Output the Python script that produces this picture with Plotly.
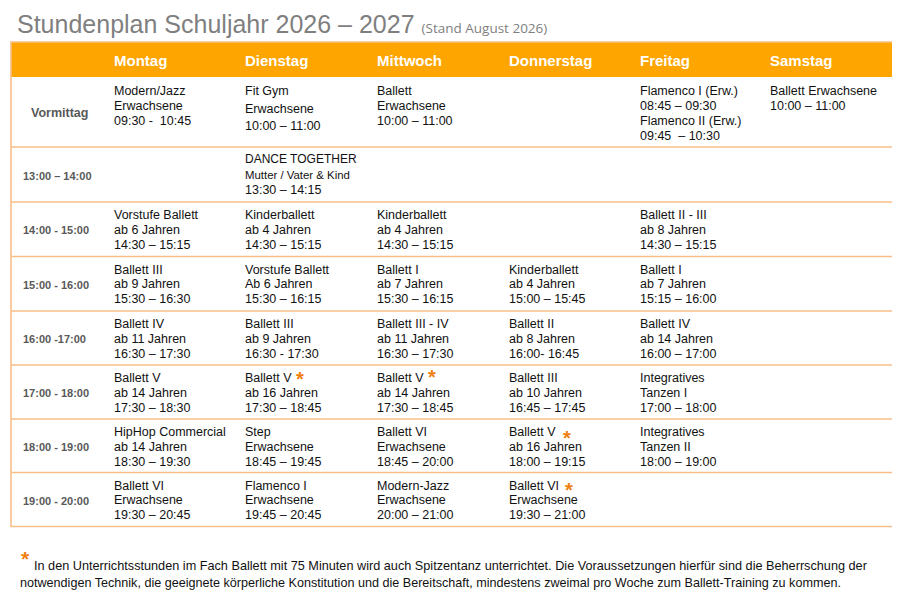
import plotly.graph_objects as go

# ---------------- data ----------------
title_main = "Stundenplan Schuljahr 2026 – 2027"
title_note = "(Stand August 2026)"

days = ["Montag", "Dienstag", "Mittwoch", "Donnerstag", "Freitag", "Samstag"]
slots = ["Vormittag", "13:00 – 14:00", "14:00 - 15:00", "15:00 - 16:00",
         "16:00 -17:00", "17:00 - 18:00", "18:00 - 19:00", "19:00 - 20:00"]

# "*" at end of a line marks Spitzentanz (orange asterisk)
montag = [
    "Modern/Jazz\nErwachsene\n09:30 -  10:45",
    "",
    "Vorstufe Ballett\nab 6 Jahren\n14:30 – 15:15",
    "Ballett III\nab 9 Jahren\n15:30 – 16:30",
    "Ballett IV\nab 11 Jahren\n16:30 – 17:30",
    "Ballett V\nab 14 Jahren\n17:30 – 18:30",
    "HipHop Commercial\nab 14 Jahren\n18:30 – 19:30",
    "Ballett VI\nErwachsene\n19:30 – 20:45",
]
dienstag = [
    "Fit Gym\nErwachsene\n10:00 – 11:00",
    "DANCE TOGETHER\nMutter / Vater & Kind\n13:30 – 14:15",
    "Kinderballett\nab 4 Jahren\n14:30 – 15:15",
    "Vorstufe Ballett\nAb 6 Jahren\n15:30 – 16:15",
    "Ballett III\nab 9 Jahren\n16:30 - 17:30",
    "Ballett V*\nab 16 Jahren\n17:30 – 18:45",
    "Step\nErwachsene\n18:45 – 19:45",
    "Flamenco I\nErwachsene\n19:45 – 20:45",
]
mittwoch = [
    "Ballett\nErwachsene\n10:00 – 11:00",
    "",
    "Kinderballett\nab 4 Jahren\n14:30 – 15:15",
    "Ballett I\nab 7 Jahren\n15:30 – 16:15",
    "Ballett III - IV\nab 11 Jahren\n16:30 – 17:30",
    "Ballett V*\nab 14 Jahren\n17:30 – 18:45",
    "Ballett VI\nErwachsene\n18:45 – 20:00",
    "Modern-Jazz\nErwachsene\n20:00 – 21:00",
]
donnerstag = [
    "",
    "",
    "",
    "Kinderballett\nab 4 Jahren\n15:00 – 15:45",
    "Ballett II\nab 8 Jahren\n16:00- 16:45",
    "Ballett III\nab 10 Jahren\n16:45 – 17:45",
    "Ballett V*\nab 16 Jahren\n18:00 – 19:15",
    "Ballett VI*\nErwachsene\n19:30 – 21:00",
]
freitag = [
    "Flamenco I (Erw.)\n08:45 – 09:30\nFlamenco II (Erw.)\n09:45  – 10:30",
    "",
    "Ballett II - III\nab 8 Jahren\n14:30 – 15:15",
    "Ballett I\nab 7 Jahren\n15:15 – 16:00",
    "Ballett IV\nab 14 Jahren\n16:00 – 17:00",
    "Integratives\nTanzen I\n17:00 – 18:00",
    "Integratives\nTanzen II\n18:00 – 19:00",
    "",
]
samstag = [
    "Ballett Erwachsene\n10:00 – 11:00",
    "", "", "", "", "", "", "",
]
schedule = [montag, dienstag, mittwoch, donnerstag, freitag, samstag]

footnote_1 = ("In den Unterrichtsstunden im Fach Ballett mit 75 Minuten wird auch Spitzentanz "
              "unterrichtet. Die Voraussetzungen hierfür sind die Beherrschung der")
footnote_2 = ("notwendigen Technik, die geeignete körperliche Konstitution und die Bereitschaft, "
              "mindestens zweimal pro Woche zum Ballett-Training zu kommen.")

# ---------------- layout constants ----------------
W, H = 900, 607
OFF = 8  # page body margin
FONT = "Liberation Sans, Arial, sans-serif"
ORANGE = "#FFA500"
BORDER = "#F8BE8A"
STAR = "#F07F12"
TEXT = "#111111"
TABLE_L, TABLE_R = 11, 893
HEADER_TOP, HEADER_BOT = 42, 77
row_bounds = [77, 147, 202, 256.5, 311, 365, 419, 472.5, 526.5]
col_x = [112, 243, 375, 507, 638, 768]
first_line = [14, 12] + [13] * 6
line_gap = [15, 15.5] + [14.8] * 6
gap_override = {(0, 1): 17.5}
STAR_SIZE = 20
# per-cell asterisk placement: (gap after text, vertical shift)
star_place = {(5, 1): (10, 0.5), (5, 2): (10.5, -1.5), (6, 3): (13, 6), (7, 3): (11.5, 4)}

# Arial / Liberation Sans advance widths (em) for the starred labels
ADV = {"B": .667, "a": .556, "l": .222, "e": .556, "t": .278, " ": .278, "V": .667, "I": .278}


def text_width(s, size):
    return sum(ADV.get(ch, .556) for ch in s) * size


def cell_size(line):
    if line.startswith("Mutter"):
        return 11.4
    if line.startswith("DANCE"):
        return 12
    return 12.5


fig = go.Figure()

shapes = []
shapes.append(dict(type="rect", xref="x", yref="y", x0=TABLE_L, x1=TABLE_R,
                   y0=HEADER_TOP, y1=HEADER_BOT, fillcolor=ORANGE, line=dict(width=0),
                   layer="below"))
for yb in row_bounds[1:-1]:
    shapes.append(dict(type="line", xref="x", yref="y", x0=TABLE_L, x1=TABLE_R,
                       y0=yb, y1=yb, line=dict(color=BORDER, width=1.6)))
shapes.append(dict(type="rect", xref="x", yref="y", x0=TABLE_L, x1=TABLE_R,
                   y0=HEADER_TOP, y1=row_bounds[-1], line=dict(color=BORDER, width=1.6)))

ann = []
ann.append(dict(x=15, y=24, xref="x", yref="y", xanchor="left", yanchor="middle",
                showarrow=False,
                text=title_main + " <span style='font-size:13.5px;font-family:Open Sans'>"
                + title_note + "</span>",
                font=dict(family=FONT, size=25, color="#7F7F7F")))
for d, x in zip(days, col_x):
    ann.append(dict(x=x, y=(HEADER_TOP + HEADER_BOT) / 2 + 0.5, xref="x", yref="y",
                    xanchor="left", yanchor="middle", showarrow=False,
                    text="<b>%s</b>" % d, font=dict(family=FONT, size=15, color="white")))
for r, s in enumerate(slots):
    yc = (row_bounds[r] + row_bounds[r + 1]) / 2
    ann.append(dict(x=29 if r == 0 else 21, y=yc + 1, xref="x", yref="y",
                    xanchor="left", yanchor="middle", showarrow=False,
                    text="<b>%s</b>" % s,
                    font=dict(family=FONT, size=12.5 if r == 0 else 11, color="#595959")))
for c, day_cells in enumerate(schedule):
    for r, cell in enumerate(day_cells):
        if not cell:
            continue
        gap = gap_override.get((r, c), line_gap[r])
        for i, line in enumerate(cell.split("\n")):
            starred = line.endswith("*")
            if starred:
                line = line[:-1]
            size = cell_size(line)
            y = row_bounds[r] + first_line[r] + i * gap
            ann.append(dict(x=col_x[c], y=y, xref="x", yref="y", xanchor="left",
                            yanchor="middle", showarrow=False, text=line,
                            font=dict(family=FONT, size=size, color=TEXT)))
            if starred:
                dx, dy = star_place.get((r, c), (10, 0.5))
                ann.append(dict(x=col_x[c] + text_width(line, size) + dx, y=y + dy,
                                xref="x", yref="y", xanchor="center", yanchor="middle",
                                showarrow=False, text="<b>*</b>",
                                font=dict(family=FONT, size=STAR_SIZE, color=STAR)))
ann.append(dict(x=19, y=558, xref="x", yref="y", xanchor="left", yanchor="middle",
                showarrow=False, text="<b>*</b>", font=dict(family=FONT, size=21, color=STAR)))
ann.append(dict(x=32, y=566, xref="x", yref="y", xanchor="left", yanchor="middle",
                showarrow=False, text=footnote_1, font=dict(family=FONT, size=12.7, color=TEXT)))
ann.append(dict(x=18, y=583, xref="x", yref="y", xanchor="left", yanchor="middle",
                showarrow=False, text=footnote_2, font=dict(family=FONT, size=12.6, color=TEXT)))

fig.update_layout(
    width=W, height=H, margin=dict(l=0, r=0, t=0, b=0),
    paper_bgcolor="white", plot_bgcolor="white",
    xaxis=dict(range=[OFF, W + OFF], visible=False, fixedrange=True),
    yaxis=dict(range=[H + OFF, OFF], visible=False, fixedrange=True),
    shapes=shapes, annotations=ann, showlegend=False,
)

fig.write_html("out.html")
